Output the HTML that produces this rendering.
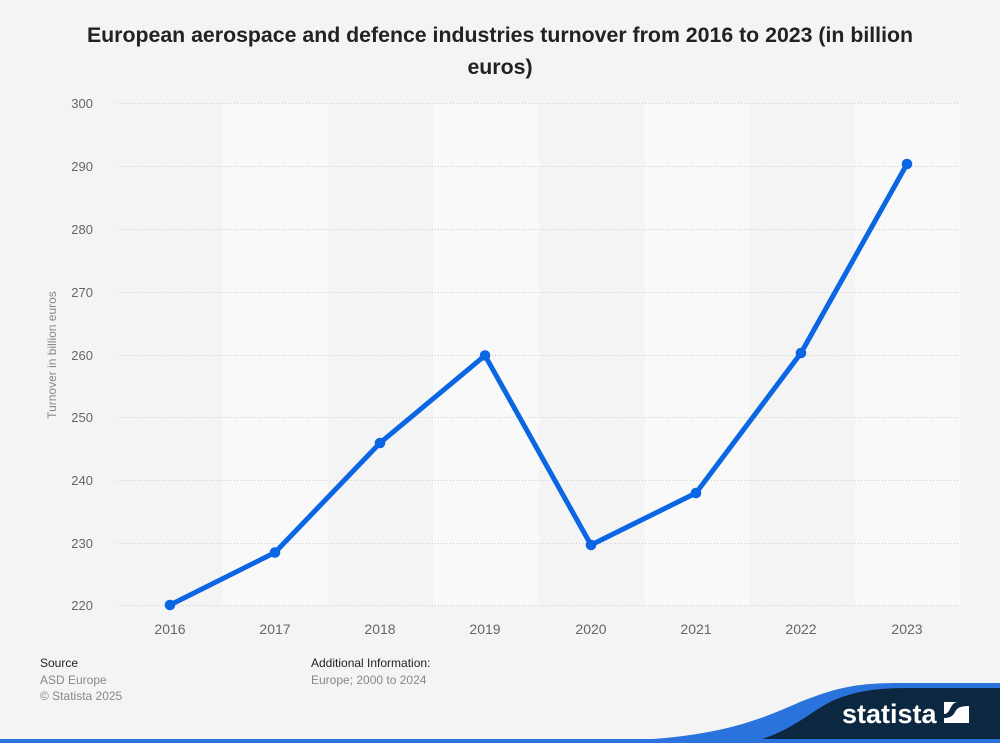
<!DOCTYPE html>
<html><head><meta charset="utf-8"><style>
html,body{margin:0;padding:0;background:#f4f4f4;}
svg{display:block;}
text{font-family:"Liberation Sans",Arial,sans-serif;}
</style></head><body>
<svg width="1000" height="743" viewBox="0 0 1000 743" xmlns="http://www.w3.org/2000/svg">
<rect x="0" y="0" width="1000" height="743" fill="#f4f4f4"/>
<text x="500" y="42" text-anchor="middle" font-size="21.3" font-weight="bold" fill="#222">European aerospace and defence industries turnover from 2016 to 2023 (in billion</text>
<text x="500" y="74" text-anchor="middle" font-size="21.3" font-weight="bold" fill="#222">euros)</text>
<!-- bands -->
<g fill="#f9f9f9">
<rect x="222" y="103" width="106" height="503"/>
<rect x="433" y="103" width="106" height="503"/>
<rect x="644" y="103" width="105" height="503"/>
<rect x="855" y="103" width="105" height="503"/>
</g>
<!-- grid -->
<g stroke="#cccccc" stroke-width="1" stroke-dasharray="1,2">
<line x1="117" x2="960" y1="103.5" y2="103.5"/>
<line x1="117" x2="960" y1="166.5" y2="166.5"/>
<line x1="117" x2="960" y1="229.5" y2="229.5"/>
<line x1="117" x2="960" y1="292.5" y2="292.5"/>
<line x1="117" x2="960" y1="355.5" y2="355.5"/>
<line x1="117" x2="960" y1="417.5" y2="417.5"/>
<line x1="117" x2="960" y1="480.5" y2="480.5"/>
<line x1="117" x2="960" y1="543.5" y2="543.5"/>
<line x1="117" x2="960" y1="605.5" y2="605.5"/>
</g>
<g font-size="13" fill="#666" text-anchor="end">
<text x="93" y="108">300</text>
<text x="93" y="171">290</text>
<text x="93" y="234">280</text>
<text x="93" y="297">270</text>
<text x="93" y="360">260</text>
<text x="93" y="422">250</text>
<text x="93" y="485">240</text>
<text x="93" y="548">230</text>
<text x="93" y="610">220</text>
</g>
<text transform="translate(56,355) rotate(-90)" text-anchor="middle" font-size="12" fill="#888">Turnover in billion euros</text>
<g font-size="14" fill="#666" text-anchor="middle">
<text x="170" y="634">2016</text>
<text x="275" y="634">2017</text>
<text x="380" y="634">2018</text>
<text x="485" y="634">2019</text>
<text x="591" y="634">2020</text>
<text x="696" y="634">2021</text>
<text x="801" y="634">2022</text>
<text x="907" y="634">2023</text>
</g>
<polyline fill="none" stroke="#0b66e4" stroke-width="5" stroke-linejoin="round" stroke-linecap="round"
 points="170,605 275,552.5 380,443 485,355.5 591,545 696,493 801,353 907,164"/>
<g fill="#0b66e4">
<circle cx="170" cy="605" r="5.3"/>
<circle cx="275" cy="552.5" r="5.3"/>
<circle cx="380" cy="443" r="5.3"/>
<circle cx="485" cy="355.5" r="5.3"/>
<circle cx="591" cy="545" r="5.3"/>
<circle cx="696" cy="493" r="5.3"/>
<circle cx="801" cy="353" r="5.3"/>
<circle cx="907" cy="164" r="5.3"/>
</g>
<!-- footer -->
<g font-size="12">
<text x="40" y="667" fill="#222">Source</text>
<text x="40" y="684" fill="#888">ASD Europe</text>
<text x="40" y="700" fill="#888">© Statista 2025</text>
<text x="311" y="667" fill="#222">Additional Information:</text>
<text x="311" y="684" fill="#888">Europe; 2000 to 2024</text>
</g>
<path d="M600 741 C710 740 755 722 800 702 C840 686 860 683 900 683 L1000 683 L1000 743 L600 743 Z" fill="#2a72dc"/>
<path d="M755 741 C790 732 810 712 832 701 C858 690 880 688 910 688 L1000 688 L1000 743 L755 743 Z" fill="#0b2840"/>
<rect x="0" y="739" width="1000" height="4" fill="#2a72dc"/>
<text x="842" y="723" font-size="27" font-weight="bold" fill="#ffffff">statista</text>
<g transform="translate(944,702)">
<rect x="0" y="0" width="25" height="21" fill="#ffffff"/>
<path d="M0 21 L0 16 C6 16 9 14 11 10 C13 6 16 4 25 4 L25 0 L14 0 C10 0 8 3 6 7 C4 11 2 12 0 12 Z" fill="#0b2840"/>
</g>
</svg>
</body></html>
